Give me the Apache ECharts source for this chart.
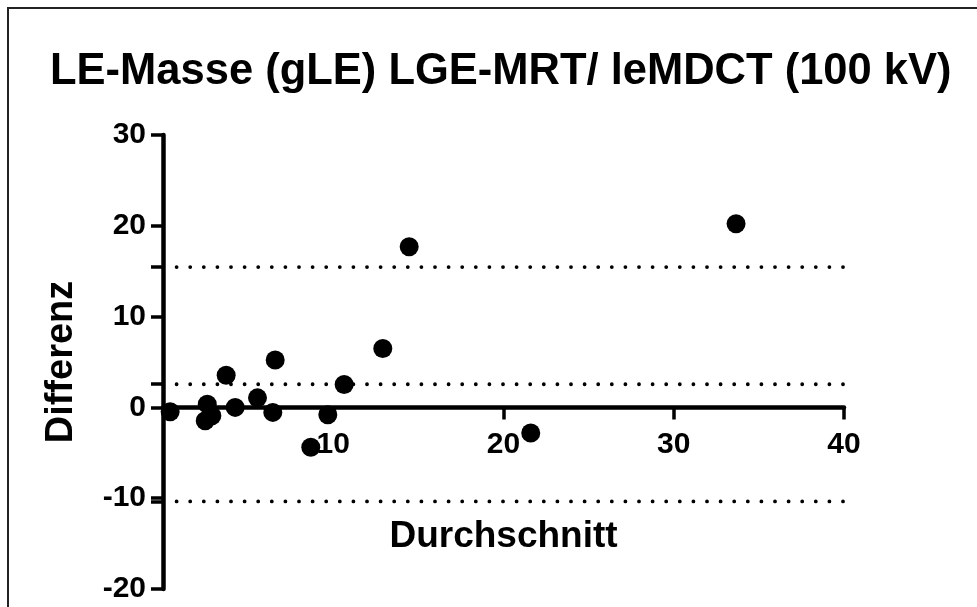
<!DOCTYPE html>
<html>
<head>
<meta charset="utf-8">
<script src="https://cdn.jsdelivr.net/npm/echarts@6/dist/echarts.min.js"></script>
<style>
html,body{margin:0;padding:0;background:#fff;}
#chart{width:977px;height:607px;}
</style>
</head>
<body>
<div id="chart"></div>
<script>
const titleText = 'LE-Masse (gLE) LGE-MRT/ leMDCT (100 kV)';
const xName = 'Durchschnitt';
const yName = 'Differenz';
// Mean values (x) and differences (y)
const avgValues = [0.42, 2.6, 2.48, 2.87, 3.71, 4.24, 5.55, 6.45, 6.59, 8.68, 9.68, 10.64, 12.91, 14.46, 21.6, 33.66];
const diffValues = [-0.48, 0.36, -1.47, -0.92, 3.55, 0.0, 1.05, -0.55, 5.22, -4.39, -0.81, 2.52, 6.48, 17.7, -2.82, 20.23];
// Limits of agreement (upper, mean bias, lower)
const limitValues = [15.45, 2.55, -10.35];
const xRange = [0, 40];
const yRange = [-20, 30];
const xTickLabels = [10, 20, 30, 40];
const yTickLabels = [-20, -10, 0, 10, 20, 30];

const points = avgValues.map((x, i) => [x, diffValues[i]]);
const font = 'Liberation Sans, Arial, Helvetica, sans-serif';

// pixel layout of the plot
const gTop = 135, gBottom = 18, gLeft = 163, gRight = 133, H = 607;
const gHeight = H - gTop - gBottom;
const zeroY = gTop + gHeight * (yRange[1] - 0) / (yRange[1] - yRange[0]);

const limitSeries = limitValues.map(v => ({
  type: 'line',
  xAxisIndex: 0, yAxisIndex: 0,
  data: [[xRange[0], v], [xRange[1], v]],
  symbol: 'none',
  silent: true,
  z: 1,
  lineStyle: { color: '#000', width: 3.8, type: [0.01, 13.59], cap: 'round' }
}));

const chart = echarts.init(document.getElementById('chart'), null, { renderer: 'canvas' });
chart.setOption({
  animation: false,
  backgroundColor: '#fff',
  title: {
    text: titleText,
    left: 45,
    top: 45,
    textStyle: { fontFamily: font, fontWeight: 'bold', fontSize: 43.5, color: '#000' }
  },
  graphic: [{
    type: 'rect',
    shape: { x: 8, y: 8, width: 1200, height: 1200 },
    style: { fill: 'none', stroke: '#222', lineWidth: 2 },
    silent: true
  }],
  grid: [
    { left: gLeft, right: gRight, top: gTop, bottom: gBottom, containLabel: false, outerBoundsMode: 'none' },
    { left: gLeft, right: gRight, top: gTop, bottom: H - zeroY, containLabel: false, outerBoundsMode: 'none' }
  ],
  xAxis: [{
    type: 'value', gridIndex: 0,
    min: xRange[0], max: xRange[1], interval: 10,
    show: false
  }, {
    type: 'value', gridIndex: 1,
    min: xRange[0], max: xRange[1], interval: 10,
    name: xName,
    nameLocation: 'middle',
    nameGap: 111,
    nameTextStyle: { fontFamily: font, fontWeight: 'bold', fontSize: 37, color: '#000' },
    splitLine: { show: false },
    axisLine: { onZero: false, lineStyle: { color: '#000', width: 4.5 } },
    axisTick: { show: true, length: 12, lineStyle: { color: '#000', width: 3.5 }, customValues: xTickLabels },
    axisLabel: { customValues: xTickLabels, margin: 22, fontFamily: font, fontWeight: 'bold', fontSize: 30, color: '#000' }
  }],
  yAxis: [{
    type: 'value', gridIndex: 0,
    min: yRange[0], max: yRange[1], interval: 10,
    name: yName,
    nameLocation: 'middle',
    nameGap: 82,
    nameRotate: 90,
    nameTextStyle: { fontFamily: font, fontWeight: 'bold', fontSize: 38, color: '#000' },
    splitLine: { show: false },
    axisLine: { onZero: false, lineStyle: { color: '#000', width: 4.5 } },
    axisTick: { show: true, length: 12, lineStyle: { color: '#000', width: 3.5 }, customValues: yTickLabels.concat(limitValues) },
    axisLabel: { customValues: yTickLabels, margin: 17, fontFamily: font, fontWeight: 'bold', fontSize: 30, color: '#000' }
  }, {
    type: 'value', gridIndex: 1,
    min: 0, max: yRange[1],
    show: false
  }],
  series: limitSeries.concat([{
    type: 'scatter',
    xAxisIndex: 0, yAxisIndex: 0,
    data: points,
    symbol: 'circle',
    symbolSize: 19,
    z: 5,
    itemStyle: { color: '#000', opacity: 1 }
  }])
});
</script>
</body>
</html>
